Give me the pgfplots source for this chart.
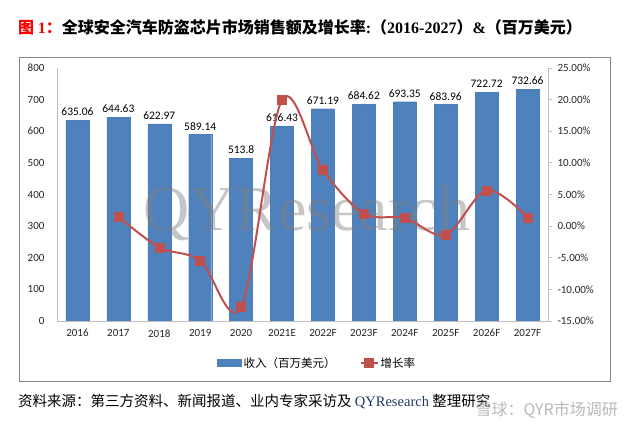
\documentclass[border=0pt]{standalone}
\usepackage{pgfplots}
\pgfplotsset{compat=1.18}
\usepackage{fontspec}
\setmainfont{Carlito}
\newfontfamily\cjk{Noto Sans CJK SC}
\newfontfamily\tnr{Liberation Serif}
\definecolor{barblue}{HTML}{4F81BD}
\definecolor{barline}{HTML}{4A7EBB}
\definecolor{lred}{HTML}{C0504D}
\definecolor{axgray}{HTML}{BFBFBF}
\definecolor{framegray}{HTML}{868686}

\pgfplotstableread{
x sales lab
0 635.06 635.06
1 644.63 644.63
2 622.97 622.97
3 589.14 589.14
4 513.80 513.8
5 616.43 616.43
6 671.19 671.19
7 684.62 684.62
8 693.35 693.35
9 683.96 683.96
10 722.72 722.72
11 732.66 732.66
}\salesdata

\pgfplotstableread{
x growth
1 1.51
2 -3.36
3 -5.43
4 -12.79
5 19.97
6 8.88
7 2.00
8 1.28
9 -1.35
10 5.67
11 1.38
}\growthdata

\begin{document}
\begin{tikzpicture}[x=1pt,y=1pt]
\path (0,0) rectangle (630,430);
\draw[framegray, line width=0.8pt] (19,49) rectangle (610,373);

\node[anchor=west, inner sep=0pt, font=\fontsize{16}{18}\selectfont\bfseries] at (18,403)
  {\textcolor{red}{\cjk 图 \tnr\bfseries 1\cjk\bfseries ：}\cjk\bfseries 全球安全汽车防盗芯片市场销售额及增长率\tnr\bfseries :\cjk\bfseries （\tnr\bfseries 2016-2027\cjk\bfseries ）\tnr\bfseries \&\cjk\bfseries （百万美元）};

\pgfplotsset{
  /pgf/number format/assume math mode=true,
  every axis/.append style={
    scale only axis, width=491pt, height=253pt,
    at={(57pt,109pt)}, anchor=south west,
    xmin=-0.5, xmax=11.5,
    tick label style={font=\fontsize{11}{12}\selectfont, text=black!85},
    axis line style={axgray, line width=0.8pt},
  },
}

\begin{axis}[
  axis x line*=bottom, axis y line*=left,
  ymin=0, ymax=800, ytick={0,100,...,800},
  xtick={0,...,11}, major tick length=0pt,
  xticklabels={2016,2017,2018,2019,2020,2021E,2022F,2023F,2024F,2025F,2026F,2027F},
  xticklabel style={yshift=-5pt},
  yticklabel style={xshift=-9pt},
]
\addplot[ybar, bar width=23pt, fill=barblue, draw=barline,
  nodes near coords, point meta=explicit symbolic,
  every node near coord/.append style={font=\fontsize{11.5}{12}\selectfont, text=black, yshift=1pt}]
  table[x=x, y=sales, meta=lab] {\salesdata};
\node[font=\fontsize{64}{64}\selectfont\tnr, text=gray, opacity=0.45] at (axis cs:5.6,340) {QYResearch};
\end{axis}

\begin{axis}[
  axis x line=none, axis y line*=right,
  ymin=-15, ymax=25, ytick={-15,-10,...,25},
  tick align=outside, major tick length=4pt,
  tick style={axgray, line width=0.8pt},
  yticklabel={\pgfmathprintnumber[fixed, fixed zerofill, precision=2]{\tick}\%},
  yticklabel style={xshift=2pt},
  legend style={at={(0.53,-0.166)}, anchor=center, draw=none, fill=none,
    legend columns=2, font=\cjk\fontsize{11.5}{12}\selectfont,
    /tikz/every even column/.append style={column sep=22pt}},
]
\addlegendimage{legend image code/.code={\fill[barblue] (0pt,-3.5pt) rectangle (24pt,3.5pt);}}
\addlegendentry{收入（百万美元）}
\addplot[lred, line width=2pt, smooth, tension=0.55,
  mark=square*, mark size=4.5pt, mark options={fill=lred, draw=lred, line width=0.5pt}]
  table[x=x, y=growth] {\growthdata};
\addlegendentry{增长率}
\end{axis}

\node[anchor=west, inner sep=0pt, font=\cjk\fontsize{14.5}{16}\selectfont] at (18,28)
  {资料来源：第三方资料、新闻报道、业内专家采访及 {\tnr\color[HTML]{1F3864}QYResearch} 整理研究};
\node[anchor=east, inner sep=0pt, font=\cjk\fontsize{16}{18}\selectfont, text=gray!55] at (618,20)
  {雪球：QYR市场调研};
\end{tikzpicture}
\end{document}
